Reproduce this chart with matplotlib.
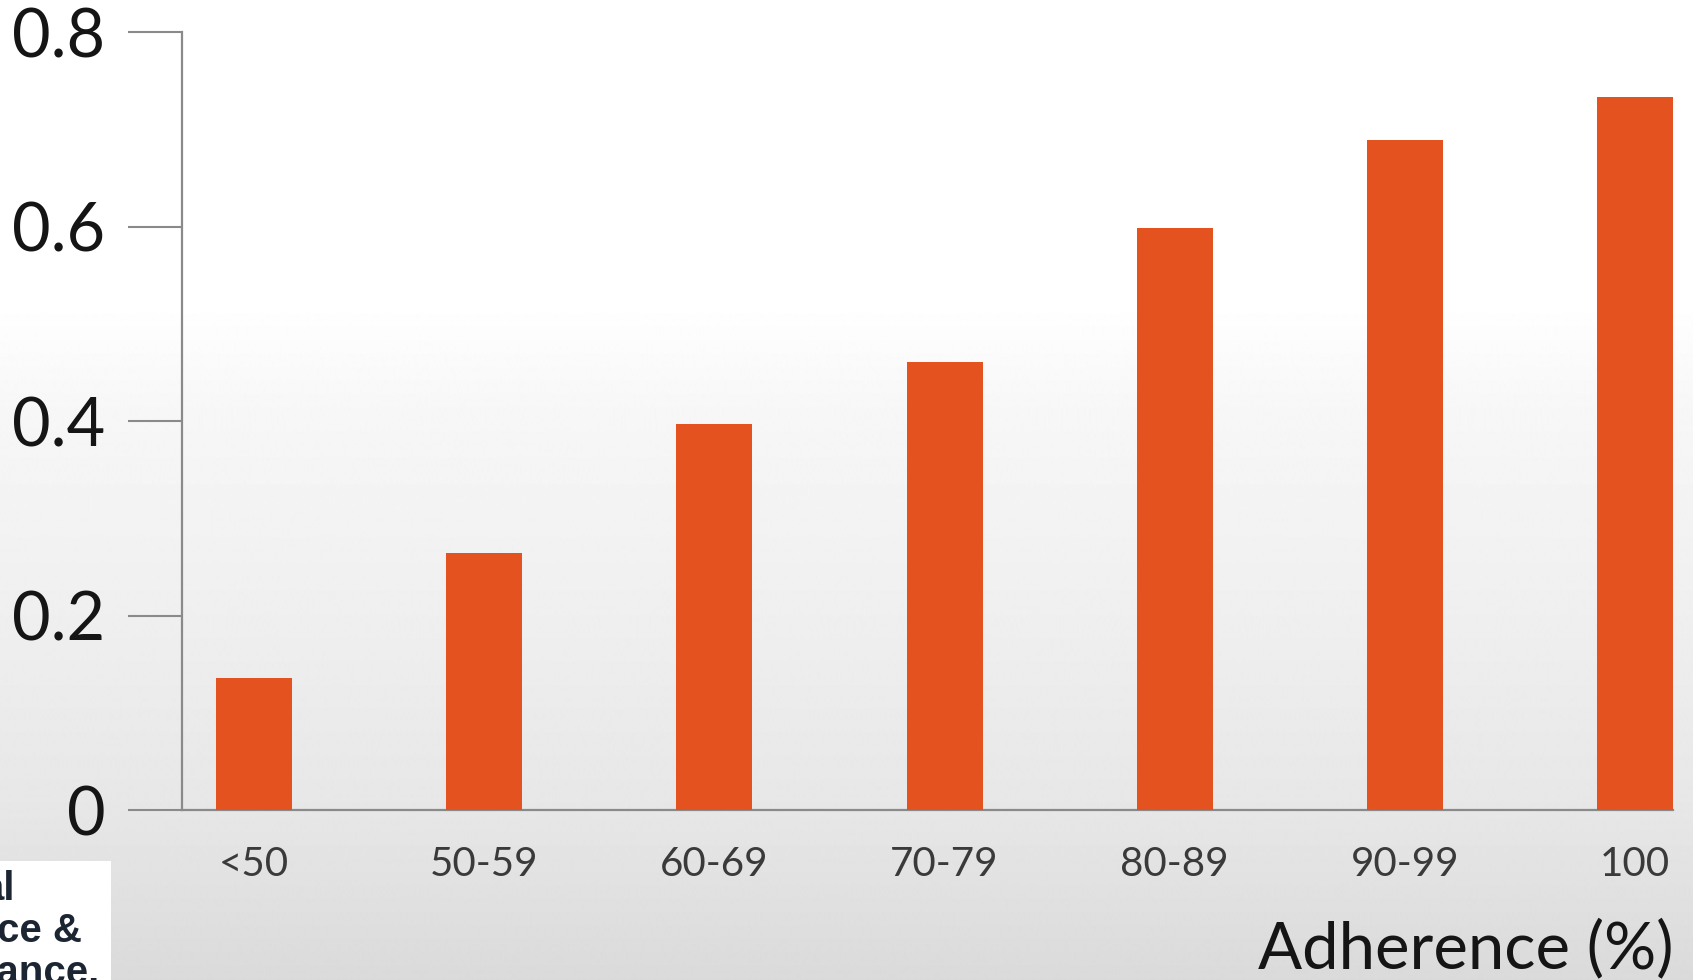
import numpy as np
import matplotlib
matplotlib.use('Agg')
import matplotlib.pyplot as plt

categories = ['<50', '50-59', '60-69', '70-79', '80-89', '90-99', '100']
values = [0.136, 0.264, 0.397, 0.461, 0.598, 0.689, 0.733]
yticks = [0, 0.2, 0.4, 0.6, 0.8]
ytick_labels = ['0', '0.2', '0.4', '0.6', '0.8']
xlabel = 'Adherence (%)'
note_lines = ['al', 'ce &', 'tance.']

plt.rcParams['font.family'] = ['Lato', 'DejaVu Sans']

W, H = 1693, 980
fig = plt.figure(figsize=(W / 100, H / 100), dpi=100)

# background gradient, white at top fading to light grey at bottom
bg = fig.add_axes([0, 0, 1, 1], zorder=-10)
rows = np.arange(H)
shade = np.interp(rows, [0, 300, 410, 600, 810, 980], [1.0, 1.0, 0.968, 0.94, 0.905, 0.855])
img = np.repeat(shade[:, None], 4, axis=1)
bg.imshow(img, cmap='gray', vmin=0, vmax=1, aspect='auto', extent=[0, 1, 0, 1],
          interpolation='bilinear')
bg.axis('off')

ax = fig.add_axes([182 / W, 1 - 810 / H, (1673 - 182) / W, (810 - 32) / H])
ax.patch.set_alpha(0)
x = np.arange(len(categories))
ax.bar(x, values, width=0.33, color='#e3521f', zorder=3)

ax.set_xlim(-0.313, len(categories) - 1 + 0.165)
ax.set_ylim(0, 0.8)
ax.set_yticks(yticks)
ax.set_yticklabels(ytick_labels, fontsize=48, color='#151515')
ax.set_xticks(x)
ax.set_xticklabels(categories, fontsize=29, color='#3a3a3a')
ax.tick_params(axis='y', length=39, width=1.5, color='#8a8a8a', pad=16)
ax.tick_params(axis='x', length=0, pad=26)

for side in ['top', 'right']:
    ax.spines[side].set_visible(False)
for side in ['left', 'bottom']:
    ax.spines[side].set_color('#8a8a8a')
    ax.spines[side].set_linewidth(1.6)

fig.text(1673 / W, 1 - 968 / H, xlabel, ha='right', va='baseline', fontsize=47,
         color='#151515')

# cropped overlay box in the bottom-left corner
box = fig.add_axes([0, 0, 111 / W, (980 - 861) / H], zorder=5)
box.set_facecolor('white')
box.set_xticks([])
box.set_yticks([])
for s in box.spines.values():
    s.set_visible(False)
note_right = [15, 82, 100]
note_base = [900, 942, 984]
for t, xr, yb in zip(note_lines, note_right, note_base):
    fig.text(xr / W, 1 - yb / H, t, ha='right', va='baseline', fontsize=29,
             color='#1c2633', family='Liberation Sans', fontweight='bold', zorder=6)

fig.savefig('out.png', dpi=100)
